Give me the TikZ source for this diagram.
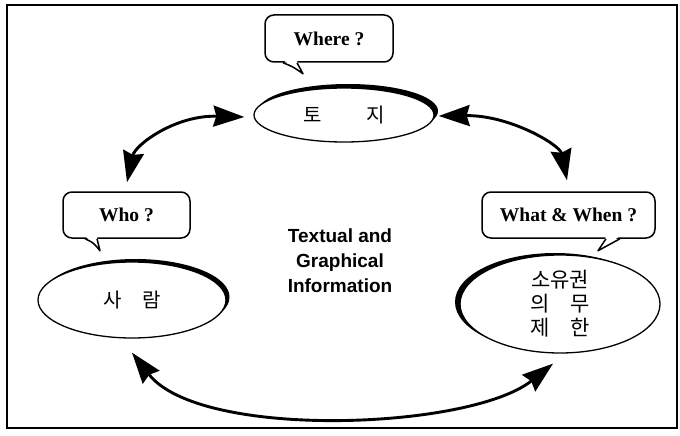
\documentclass[tikz,border=0pt]{standalone}
\usepackage{fontspec}
\setmainfont{Liberation Serif}
\newfontfamily\cjk{Noto Sans CJK KR}
\newfontfamily\arialfont{Liberation Sans}
\usetikzlibrary{shapes.geometric,arrows.meta,calc}
\begin{document}
\begin{tikzpicture}[x=1pt,y=-1pt,
  bubble/.style={draw,line width=1.5pt,rounded corners=9pt,fill=white,inner sep=0pt,
    font=\fontsize{19.5}{22}\selectfont\bfseries},
  oval/.style={draw,ellipse,line width=1.3pt,fill=white,inner sep=0pt,
    font=\cjk\fontsize{20}{25}\selectfont},
  arr/.style={line width=2.9pt,{Stealth[length=31pt,width=21pt,inset=3pt]}-{Stealth[length=31pt,width=21pt,inset=3pt]}},
  tail/.style={line width=1.5pt,line join=round}]
\useasboundingbox (0,0) rectangle (680,436);
\draw[line width=1.4pt] (7,5) rectangle (677,428);

% ellipse shadows (crescents)
\fill (348,111) ellipse [x radius=90pt, y radius=27pt];
\fill (135.5,297) ellipse [x radius=94pt, y radius=38pt];
\fill (555,302) ellipse [x radius=100pt, y radius=49pt];

% ellipses
\node[oval,minimum width=180pt,minimum height=54pt] (toji) at (344,115) {토\hspace{44pt}지};
\node[oval,minimum width=188pt,minimum height=76pt] (saram) at (132,300) {사\hspace{20pt}람};
\node[oval,minimum width=200pt,minimum height=98pt,align=center,font=\cjk\fontsize{21}{24}\selectfont] (sou) at (560,304)
  {소유권\\의\hspace{21pt}무\\제\hspace{21pt}한};

% bubbles
\node[bubble,minimum width=128pt,minimum height=47pt] (where) at (329,38.5) {Where ?};
\node[bubble,minimum width=127pt,minimum height=46pt] (who) at (126.5,215) {Who ?};
\node[bubble,minimum width=173pt,minimum height=46pt] (what) at (568.5,215) {What \& When ?};

% tails
\fill[white] ($(where.south)+(-45,-2)$) -- ($(where.south)+(-32,-2)$) -- ($(where.south)+(-26,11)$) -- cycle;
\draw[tail] ($(where.south)+(-46,0)$) .. controls ($(where.south)+(-36,4)$) .. ($(where.south)+(-26,11)$) -- ($(where.south)+(-32,0)$);
\fill[white] ($(who.south)+(-40.5,-2)$) -- ($(who.south)+(-29.5,-2)$) -- ($(who.south)+(-26.5,12)$) -- cycle;
\draw[tail] ($(who.south)+(-41.5,0)$) .. controls ($(who.south)+(-33,4)$) .. ($(who.south)+(-26.5,12)$) -- ($(who.south)+(-29.5,0)$);
\fill[white] ($(what.south)+(37.5,-2)$) -- ($(what.south)+(50.5,-2)$) -- ($(what.south)+(29.5,12)$) -- cycle;
\draw[tail] ($(what.south)+(51.5,0)$) .. controls ($(what.south)+(40,6)$) .. ($(what.south)+(29.5,12)$) -- ($(what.south)+(37.5,0)$);

% centre text
\node[align=center,font=\arialfont\bfseries\fontsize{19}{25}\selectfont] (info) at (340,261)
  {Textual and\\Graphical\\Information};

% arrows
\draw[arr] ($(toji.west)+(-9,2)$) .. controls (175,115) and (135,145) .. ($(who.north)+(0.5,-9)$);
\draw[arr] ($(toji.east)+(4,1)$) .. controls (510,115) and (560,145) .. ($(what.north)+(-1.5,-11)$);
\draw[arr] ($(saram.south)+(0,14)$) .. controls (200,440) and (470,430) .. ($(sou.south)+(-7,10)$);
\end{tikzpicture}
\end{document}
